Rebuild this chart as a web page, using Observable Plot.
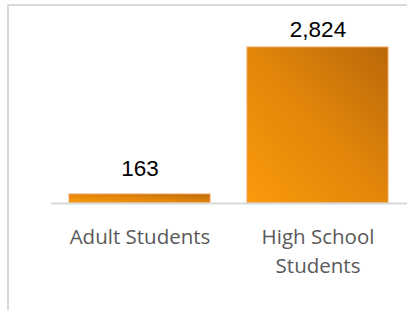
<!DOCTYPE html>
<html>
<head>
<meta charset="utf-8">
<script src="https://cdn.jsdelivr.net/npm/d3@7"></script>
<script src="https://cdn.jsdelivr.net/npm/@observablehq/plot@0.6"></script>
<style>
  html, body { margin: 0; padding: 0; background: #fff; }
  #wrap { position: relative; width: 407px; height: 310px; overflow: hidden; }
  #frame { position: absolute; left: 7px; top: 4px; width: 420px; height: 320px;
           border-top: 2px solid #d9d9d9; border-left: 2px solid #d9d9d9; box-sizing: border-box; }
  #chart { position: absolute; left: 0; top: 0; }
</style>
</head>
<body>
<div id="wrap"><div id="frame"></div><div id="chart"></div></div>
<script>
const categories = ["Adult Students", "High School Students"];
const categoryLabels = ["Adult Students", "High School\nStudents"];
const values = [163, 2824];
const valueLabels = ["163", "2,824"];

const data = categories.map((c, i) => ({category: c, label: categoryLabels[i], value: values[i], text: valueLabels[i]}));

const valueText = (d, dy) => Plot.text(d, {x: "category", y: "value", text: "text", dy, fontSize: 22.5,
  fontFamily: "Liberation Sans, Arial, sans-serif", fill: "#000"});

const plot = Plot.plot({
  width: 407,
  height: 310,
  marginTop: 47,
  marginBottom: 107,
  marginLeft: 51,
  marginRight: 0,
  style: {background: "transparent", overflow: "visible"},
  x: {domain: categories, paddingInner: 0.207, paddingOuter: 0.098, axis: null},
  y: {domain: [0, 2824], axis: null},
  marks: [
    () => {
      const svg = d3.create("svg:defs");
      const g = svg.append("linearGradient").attr("id", "barGrad")
        .attr("x1", "0").attr("y1", "1").attr("x2", "1").attr("y2", "0");
      g.append("stop").attr("offset", "0%").attr("stop-color", "#fa9a0c");
      g.append("stop").attr("offset", "50%").attr("stop-color", "#e3860a");
      g.append("stop").attr("offset", "100%").attr("stop-color", "#b9680a");
      return svg.node();
    },
    Plot.barY(data, {x: "category", y: "value", fill: "url(#barGrad)", stroke: "#f2a25a", strokeWidth: 1}),
    Plot.ruleY([0], {stroke: "#d9d9d9", strokeWidth: 2}),
    valueText([data[0]], -26),
    valueText([data[1]], -17.5),
    Plot.text(data, {x: "category", y: 0, text: "label", dy: 20, lineAnchor: "top", lineHeight: 1.42,
      fontSize: 20.5, fontFamily: "Open Sans, sans-serif", fill: "#595959"})
  ]
});
document.getElementById("chart").appendChild(plot);
</script>
</body>
</html>
